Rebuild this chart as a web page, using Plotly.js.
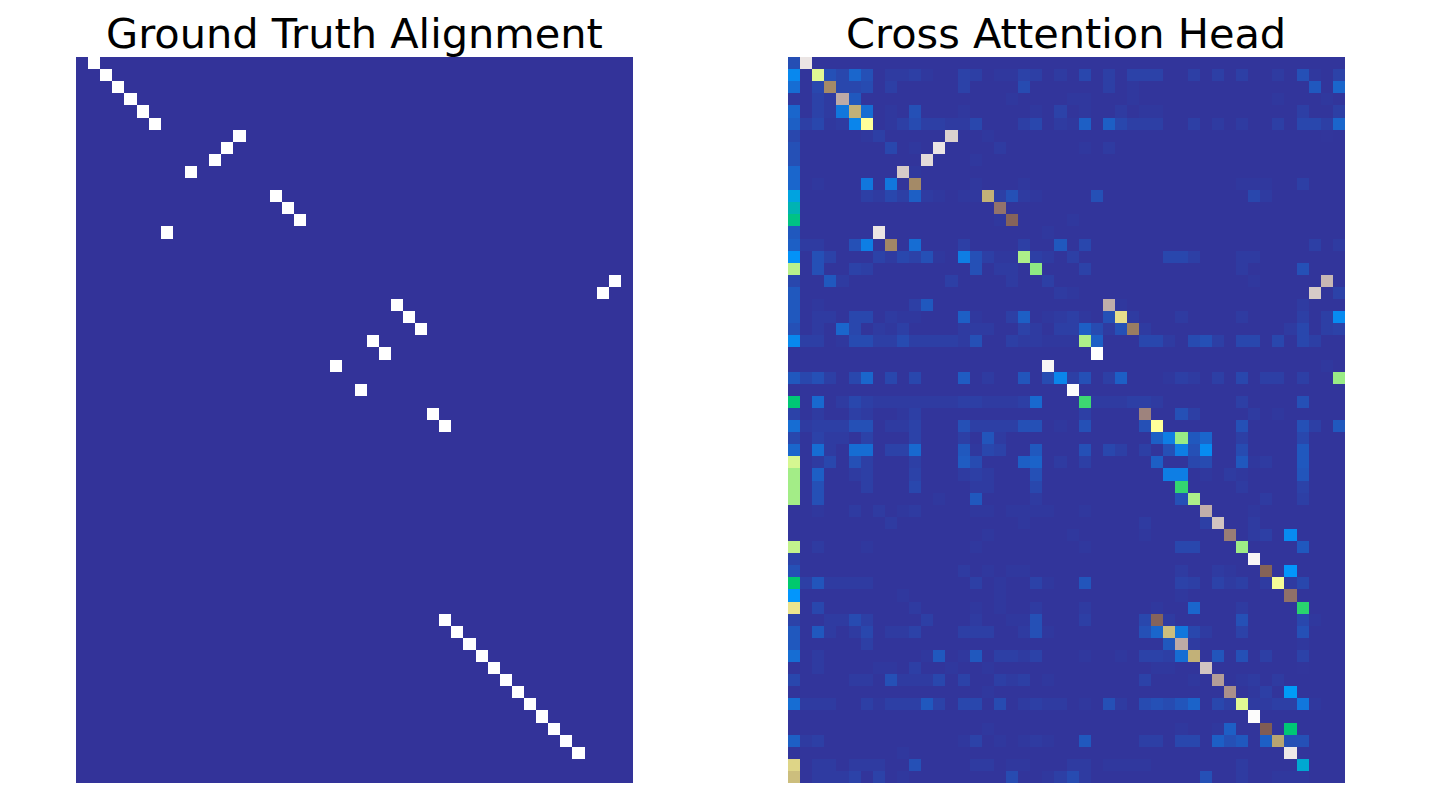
<!DOCTYPE html>
<html>
<head>
<meta charset="utf-8">
<script src="https://cdn.plot.ly/plotly-3.0.1.min.js"></script>
<style>html,body{margin:0;padding:0;background:#fff}#chart{width:1435px;height:798px}</style>
</head>
<body>
<div id="chart"></div>
<script>
const rowCount = 60;
const colCount = 46;
const leftTitle = "Ground Truth Alignment";
const rightTitle = "Cross Attention Head";

const gtRows = [0,1,2,3,4,5,6,7,8,9,11,12,13,14,18,19,20,21,22,23,24,25,27,29,30,46,47,48,49,50,51,52,53,54,55,56,57];
const gtCols = [1,2,3,4,5,6,13,12,11,9,16,17,18,7,44,43,26,27,28,24,25,21,23,29,30,30,31,32,33,34,35,36,37,38,39,40,41];

const crossBase = 0.003;
const crossRows = [
{0:.04,1:.96},
{0:.125,2:.47,3:.042,4:.03,5:.075,6:.042,8:.012,9:.012,10:.017,11:.008,14:.022,15:.017,17:.008,18:.008,19:.022,20:.017,22:.012,24:.03,26:.017,28:.022,29:.022,30:.022,33:.017,35:.017,37:.017,40:.012,42:.042,43:.008,45:.022},
{0:.085,2:.03,3:.68,4:.03,5:.03,6:.036,8:.017,14:.022,19:.036,26:.017,28:.008,43:.055,45:.075},
{0:.008,2:.022,3:.012,4:.87,5:.055,18:.008,23:.008,24:.008,28:.008,40:.008,44:.008},
{0:.075,2:.022,3:.012,4:.1,5:.62,6:.085,8:.008,10:.042,14:.008,20:.008,22:.022,24:.008,27:.012,29:.008,30:.008,42:.017,45:.017},
{0:.065,1:.017,2:.03,3:.008,4:.012,5:.12,6:.5,8:.008,9:.017,10:.036,11:.017,12:.017,13:.012,14:.012,15:.03,19:.017,20:.03,22:.012,23:.008,24:.065,26:.065,27:.03,28:.017,29:.017,30:.017,33:.017,35:.012,37:.012,40:.017,42:.03,43:.03,44:.017,45:.075},
{0:.03,6:.008,7:.017,13:.93,16:.008,44:.004},
{0:.042,8:.03,10:.008,12:.96,17:.012,24:.008,26:.012},
{0:.042,11:.945,15:.008},
{0:.075,9:.92,10:.008},
{0:.075,2:.008,6:.1,8:.1,10:.68,15:.008,19:.008,37:.008,38:.008,39:.008,42:.017},
{0:.17,6:.017,7:.012,8:.03,9:.017,10:.065,11:.012,12:.008,14:.008,15:.008,16:.62,17:.017,18:.042,19:.012,20:.008,25:.042,38:.03,39:.012},
{0:.2,17:.785},
{0:.23,17:.008,18:.76,23:.008},
{0:.055,7:.96,21:.008},
{0:.065,1:.012,2:.012,5:.042,6:.11,8:.685,10:.085,14:.017,19:.017,22:.055,24:.03,43:.017,45:.012},
{0:.14,2:.042,3:.022,7:.022,8:.012,9:.03,10:.022,11:.042,12:.008,14:.11,15:.042,16:.017,17:.008,18:.008,19:.42,20:.017,21:.012,23:.017,31:.03,32:.03,33:.017,37:.012,38:.012},
{0:.43,2:.042,5:.022,6:.017,15:.042,17:.012,18:.012,20:.39,24:.022,37:.012,42:.042},
{0:.03,3:.055,4:.012,13:.017,18:.012,21:.017,38:.008,44:.89},
{0:.055,22:.012,23:.008,43:.92,45:.022},
{0:.055,2:.008,10:.017,11:.055,26:.875,27:.008,42:.012},
{0:.055,2:.012,3:.012,5:.03,6:.03,8:.012,9:.008,10:.008,14:.065,15:.008,18:.017,19:.065,21:.008,22:.012,23:.017,24:.008,26:.042,27:.55,28:.012,32:.012,37:.012,42:.017,44:.017,45:.13},
{0:.042,2:.012,4:.075,5:.03,7:.012,8:.008,9:.017,14:.012,15:.012,16:.012,19:.022,20:.012,22:.017,23:.017,24:.065,25:.036,26:.012,27:.042,28:.7,29:.012,41:.012,42:.03,44:.017,45:.022},
{0:.125,1:.017,2:.017,4:.008,5:.036,6:.036,7:.017,8:.017,9:.036,10:.017,11:.017,12:.017,13:.017,14:.012,15:.042,18:.017,19:.012,20:.012,21:.008,22:.008,23:.008,24:.42,25:.065,29:.03,30:.03,31:.012,33:.036,34:.042,35:.017,37:.03,38:.03,40:.03,42:.03,43:.017},
{25:1},
{21:.985,44:.008},
{0:.055,1:.03,2:.042,3:.017,5:.03,6:.075,8:.03,10:.03,14:.06,16:.012,19:.05,21:.036,22:.12,23:.017,24:.042,26:.017,27:.065,31:.008,32:.017,33:.012,35:.017,37:.03,39:.017,40:.017,42:.017,45:.4},
{23:.995},
{0:.24,2:.08,4:.012,5:.03,6:.017,7:.012,8:.012,9:.012,10:.012,11:.012,12:.012,13:.012,14:.017,15:.017,16:.012,17:.012,18:.012,19:.017,20:.08,24:.31,25:.012,26:.012,27:.012,28:.017,29:.017,30:.012,37:.017,42:.042},
{0:.022,2:.012,5:.017,6:.012,9:.008,10:.017,24:.017,29:.81,32:.042,33:.017,38:.012,40:.008},
{0:.085,1:.012,2:.017,3:.017,4:.017,5:.042,6:.042,8:.012,9:.012,10:.022,14:.042,15:.017,16:.017,17:.017,18:.017,19:.042,20:.042,22:.008,24:.042,29:.042,30:.5,37:.042,42:.042,43:.017,45:.055},
{0:.03,2:.022,3:.012,4:.012,6:.022,10:.022,14:.017,16:.05,17:.012,30:.065,31:.11,32:.4,33:.055,34:.075,37:.017,42:.03},
{0:.075,2:.085,3:.012,5:.085,6:.085,8:.022,9:.022,10:.08,14:.055,15:.008,16:.03,17:.022,20:.055,24:.042,26:.03,27:.017,29:.017,31:.042,32:.11,33:.042,34:.13,37:.036,42:.055},
{0:.46,2:.012,3:.03,5:.042,6:.017,10:.017,14:.06,15:.036,19:.065,20:.07,22:.012,24:.017,30:.065,33:.03,34:.036,37:.055,38:.008,39:.012,42:.055},
{0:.41,2:.065,5:.012,6:.017,10:.022,14:.012,15:.017,16:.012,20:.042,31:.11,32:.11,34:.008,36:.012,37:.008,42:.05},
{0:.41,2:.042,6:.017,10:.03,15:.012,16:.012,20:.03,32:.3,37:.012,42:.022},
{0:.41,2:.042,12:.008,15:.055,20:.012,32:.042,33:.42,39:.012,42:.017},
{2:.008,5:.012,7:.012,9:.008,10:.012,15:.008,16:.008,18:.008,19:.008,20:.008,21:.008,24:.008,34:.875,38:.008},
{8:.012,19:.008,29:.012,34:.017,35:.91,38:.012},
{16:.008,23:.008,29:.008,36:.8,38:.012,39:.017,41:.13},
{0:.44,2:.012,6:.008,15:.008,24:.008,32:.03,33:.03,37:.405,42:.055},
{0:.022,38:.985},
{0:.042,14:.012,16:.008,18:.008,19:.008,32:.012,35:.012,36:.008,39:.74,41:.145},
{0:.245,1:.017,2:.05,3:.012,4:.012,5:.012,6:.012,15:.017,17:.008,20:.022,21:.008,24:.05,32:.022,33:.017,35:.022,36:.012,37:.017,39:.012,40:.49,41:.012,42:.03},
{0:.145,9:.008,17:.008,32:.008,41:.78},
{0:.54,2:.03,10:.012,15:.008,17:.008,20:.012,24:.012,30:.008,33:.075,37:.012,42:.29},
{0:.022,3:.012,4:.012,5:.036,6:.017,11:.017,15:.012,18:.008,19:.008,20:.042,24:.017,29:.03,30:.76,31:.012,37:.042,42:.03,43:.008},
{0:.055,2:.055,3:.012,5:.012,6:.03,8:.012,9:.012,10:.022,14:.017,15:.017,16:.017,19:.012,20:.042,21:.008,29:.042,30:.075,31:.6,32:.1,33:.03,34:.012,37:.022,42:.042},
{0:.055,6:.017,31:.055,32:.87,33:.012,42:.008},
{0:.085,2:.012,11:.008,12:.055,14:.008,15:.055,17:.017,18:.017,19:.012,20:.022,24:.008,27:.008,29:.022,30:.022,31:.017,32:.085,33:.62,35:.05,37:.042,39:.017,42:.022},
{2:.012,7:.008,8:.008,10:.017,13:.008,16:.008,30:.008,31:.008,34:.91,42:.004},
{0:.03,5:.012,6:.012,8:.042,9:.012,10:.012,11:.012,12:.03,14:.022,17:.017,18:.012,19:.017,21:.008,29:.022,33:.008,35:.85,37:.008,38:.012,40:.012},
{16:.008,36:.83,38:.008,39:.017,41:.155},
{0:.085,1:.012,2:.012,3:.012,6:.017,7:.008,8:.017,9:.017,10:.017,11:.055,12:.022,14:.03,15:.03,17:.036,19:.012,20:.017,21:.012,22:.012,24:.008,26:.042,27:.012,29:.036,30:.042,31:.036,32:.05,33:.07,35:.03,36:.017,37:.47,38:.012,39:.012,40:.017,41:.017,42:.1,43:.008},
{38:.995},
{16:.008,32:.008,35:.008,36:.065,39:.75,41:.24},
{0:.065,1:.012,2:.017,14:.008,15:.022,17:.008,19:.008,20:.012,21:.008,24:.055,29:.017,30:.017,32:.03,33:.03,35:.065,36:.042,37:.055,39:.065,40:.64,41:.042,42:.042},
{9:.008,41:.965},
{0:.565,2:.012,3:.012,5:.012,6:.012,7:.012,10:.042,15:.012,16:.012,18:.008,19:.008,23:.012,24:.012,26:.008,27:.008,28:.008,29:.008,37:.012,42:.18},
{0:.6,2:.012,3:.012,4:.012,5:.022,7:.022,9:.008,18:.036,21:.008,22:.017,23:.036,24:.012,34:.042,37:.012,40:.008,41:.008,42:.008}
];

const terrainStops = [
  [0, "rgb(51,51,153)"],
  [0.15, "rgb(0,153,255)"],
  [0.25, "rgb(0,204,102)"],
  [0.5, "rgb(255,255,153)"],
  [0.75, "rgb(128,92,84)"],
  [1, "rgb(255,255,255)"]
];

const gtZ = [];
const crossZ = [];
for (let r = 0; r < rowCount; r++) {
  gtZ.push(new Array(colCount).fill(0));
  const row = [];
  for (let c = 0; c < colCount; c++) {
    row.push(crossRows[r][c] !== undefined ? crossRows[r][c] : crossBase);
  }
  crossZ.push(row);
}
gtRows.forEach((r, i) => { gtZ[r][gtCols[i]] = 1; });

const W = 1435, H = 798;
const hiddenAxis = {showgrid:false, zeroline:false, showticklabels:false, ticks:"", showline:false};

const data = [
  {type:"heatmap", z:gtZ, xaxis:"x", yaxis:"y", colorscale:terrainStops, zmin:0, zmax:1, showscale:false},
  {type:"heatmap", z:crossZ, xaxis:"x2", yaxis:"y2", colorscale:terrainStops, zmin:0, zmax:1, showscale:false}
];
const layout = {
  width:W, height:H,
  margin:{l:0,r:0,t:0,b:0},
  paper_bgcolor:"#fff", plot_bgcolor:"#fff",
  font:{family:"DejaVu Sans", color:"#000"},
  xaxis:Object.assign({}, hiddenAxis, {domain:[76/W, 633/W], range:[-0.5,colCount-0.5]}),
  yaxis:Object.assign({}, hiddenAxis, {domain:[1-783/H, 1-57/H], range:[rowCount-0.5,-0.5]}),
  xaxis2:Object.assign({}, hiddenAxis, {domain:[788/W, 1345/W], range:[-0.5,colCount-0.5]}),
  yaxis2:Object.assign({}, hiddenAxis, {domain:[1-783/H, 1-57/H], range:[rowCount-0.5,-0.5], anchor:"x2"}),
  annotations:[
    {text:leftTitle, xref:"paper", yref:"paper", x:354.5/W, y:1-34/H, xanchor:"center", yanchor:"middle", showarrow:false, font:{size:41.5, family:"DejaVu Sans", color:"#000"}},
    {text:rightTitle, xref:"paper", yref:"paper", x:1066/W, y:1-34/H, xanchor:"center", yanchor:"middle", showarrow:false, font:{size:41.5, family:"DejaVu Sans", color:"#000"}}
  ]
};
Plotly.newPlot("chart", data, layout, {staticPlot:true, displayModeBar:false});
</script>
</body>
</html>
